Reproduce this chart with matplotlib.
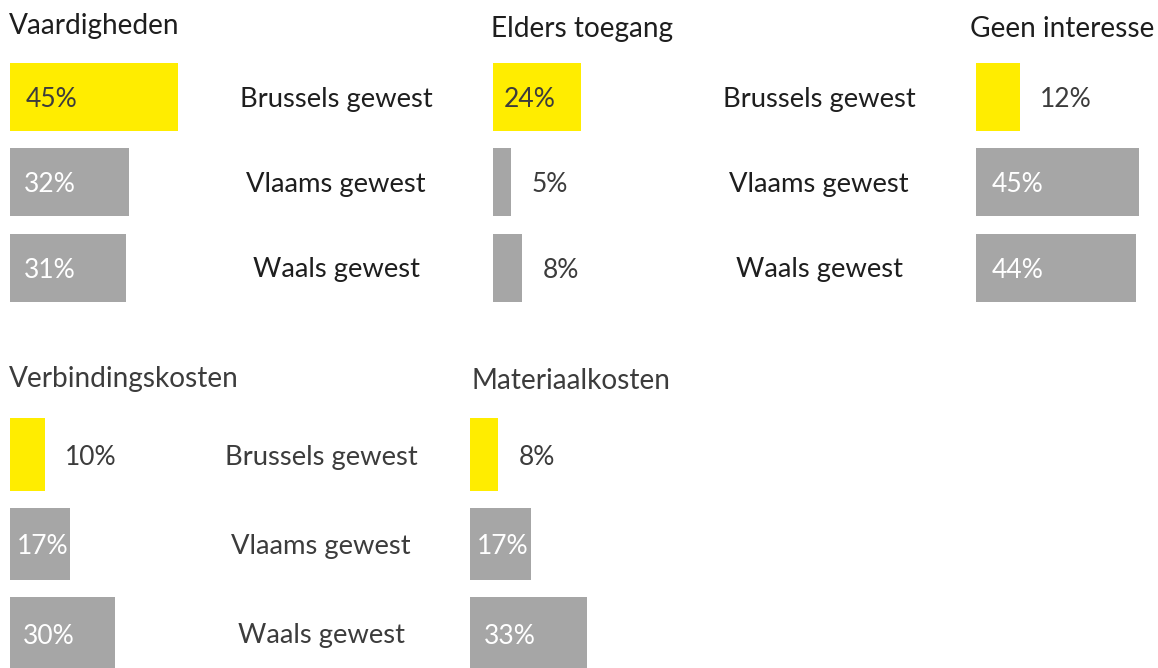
import matplotlib
matplotlib.use("Agg")
import matplotlib.pyplot as plt

# Reasons given, share of respondents per region (%)
regions = ["Brussels gewest", "Vlaams gewest", "Waals gewest"]
titles = ["Vaardigheden", "Elders toegang", "Geen interesse",
          "Verbindingskosten", "Materiaalkosten"]
vaardigheden = [45, 32, 31]
elders_toegang = [24, 5, 8]
geen_interesse = [12, 45, 44]
verbindingskosten = [10, 17, 30]
materiaalkosten = [8, 17, 33]

YELLOW = "#FFED00"
GREY = "#A6A6A6"
DARK = "#1E1E1E"
MID = "#3C3C3C"

plt.rcParams["font.family"] = ["Lato", "DejaVu Sans"]
FS_NUM = 19
FS_LBL = 19.7
FS_TTL = 20.2
WEIGHT = 400

W, H = 1158, 668
fig = plt.figure(figsize=(W / 100, H / 100), dpi=100)
fig.patch.set_facecolor("white")


def panel(title, values, x0, scale, centers, bar_h, title_xy,
          label_cx=None, width_px=470, text_col=DARK):
    pitch = (centers[-1] - centers[0]) / (len(centers) - 1)
    y_top = centers[0] - pitch / 2
    y_bot = centers[-1] + pitch / 2
    ax = fig.add_axes([x0 / W, 1 - y_bot / H, width_px / W, (y_bot - y_top) / H])
    ax.set_xlim(0, width_px / scale)
    ax.set_ylim(len(values) - 0.5, -0.5)
    ax.axis("off")
    colors = [YELLOW] + [GREY] * (len(values) - 1)
    rows = list(range(len(values)))
    ax.barh(rows, values, height=bar_h / pitch, color=colors, left=0)
    for i, v in enumerate(values):
        bar_px = v * scale
        if v >= 15:
            x = min(16, 0.12 * bar_px) / scale
            col = "white" if i > 0 else MID
        else:
            x = v + 20 / scale
            col = MID
        ax.text(x, i, f"{v}%", ha="left", va="center_baseline",
                fontsize=FS_NUM, color=col, fontweight=WEIGHT)
        if label_cx is not None:
            ax.text((label_cx - x0) / scale, i, regions[i], ha="center",
                    va="center_baseline", fontsize=FS_LBL, color=text_col,
                    fontweight=WEIGHT)
    fig.text(title_xy[0] / W, 1 - title_xy[1] / H, title, ha="left",
             va="baseline", fontsize=FS_TTL, color=text_col, fontweight=WEIGHT)
    return ax


top_rows = [97, 182, 267.5]
bot_rows = [454.5, 544, 633.5]

panel(titles[0], vaardigheden, 10, 3.73, top_rows, 68, (9, 34), label_cx=336)
panel(titles[1], elders_toegang, 493, 3.67, top_rows, 68, (491, 37), label_cx=819)
panel(titles[2], geen_interesse, 976, 3.63, top_rows, 68, (970, 37), width_px=180)
panel(titles[3], verbindingskosten, 10, 3.5, bot_rows, 72.5, (9, 387),
      label_cx=321, text_col=MID)
panel(titles[4], materiaalkosten, 470, 3.56, bot_rows, 72.5, (472, 389),
      text_col=MID)

fig.savefig("out.png", dpi=100, facecolor="white")
